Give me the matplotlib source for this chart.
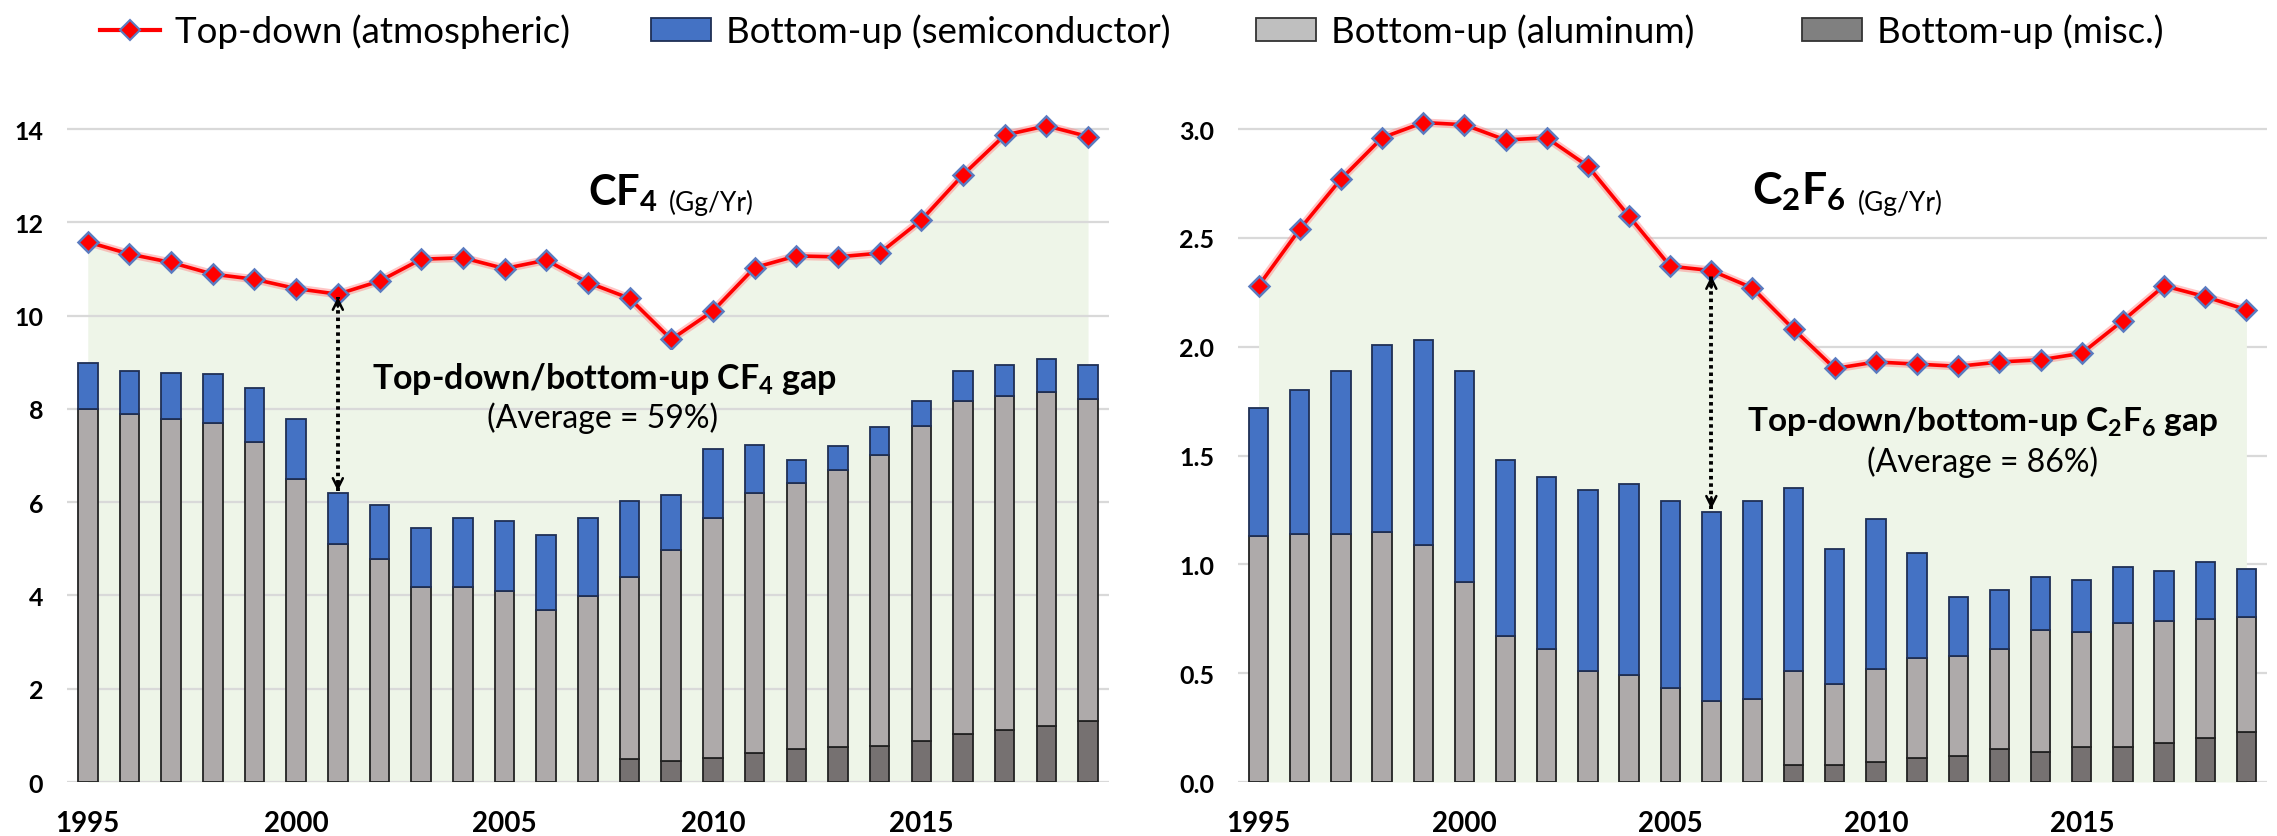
import matplotlib
matplotlib.use("Agg")
import matplotlib.pyplot as plt
from matplotlib.lines import Line2D
from matplotlib.patches import Patch
import numpy as np

plt.rcParams["font.family"] = ["Lato", "DejaVu Sans"]
plt.rcParams["mathtext.fontset"] = "custom"
plt.rcParams["mathtext.rm"] = "Lato"
plt.rcParams["mathtext.bf"] = "Lato:bold"
plt.rcParams["mathtext.it"] = "Lato:italic"

years = list(range(1995, 2020))

# CF4 (Gg/yr)
cf4_topdown = [11.58, 11.32, 11.14, 10.89, 10.78, 10.58, 10.46, 10.74, 11.21, 11.24,
               11.01, 11.19, 10.71, 10.37, 9.49, 10.10, 11.03, 11.28, 11.26, 11.34,
               12.05, 13.02, 13.87, 14.07, 13.84]
cf4_misc = [0, 0, 0, 0, 0, 0, 0, 0, 0, 0, 0, 0, 0,
            0.49, 0.45, 0.52, 0.63, 0.70, 0.75, 0.77, 0.89, 1.04, 1.11, 1.20, 1.30]
cf4_alu = [7.99, 7.90, 7.79, 7.69, 7.29, 6.49, 5.11, 4.79, 4.18, 4.18, 4.09, 3.69, 3.99,
           3.90, 4.52, 5.15, 5.56, 5.72, 5.94, 6.24, 6.75, 7.14, 7.17, 7.16, 6.92]
cf4_semi = [1.00, 0.91, 0.98, 1.05, 1.16, 1.30, 1.09, 1.15, 1.27, 1.49, 1.50, 1.60, 1.68,
            1.63, 1.19, 1.46, 1.03, 0.49, 0.52, 0.60, 0.52, 0.63, 0.67, 0.71, 0.73]

# C2F6 (Gg/yr)
c2f6_topdown = [2.28, 2.54, 2.77, 2.96, 3.03, 3.02, 2.95, 2.96, 2.83, 2.60,
                2.37, 2.35, 2.27, 2.08, 1.90, 1.93, 1.92, 1.91, 1.93, 1.94,
                1.97, 2.12, 2.28, 2.23, 2.17]
c2f6_misc = [0, 0, 0, 0, 0, 0, 0, 0, 0, 0, 0, 0, 0,
             0.08, 0.08, 0.09, 0.11, 0.12, 0.15, 0.14, 0.16, 0.16, 0.18, 0.20, 0.23]
c2f6_alu = [1.13, 1.14, 1.14, 1.15, 1.09, 0.92, 0.67, 0.61, 0.51, 0.49, 0.43, 0.37, 0.38,
            0.43, 0.37, 0.43, 0.46, 0.46, 0.46, 0.56, 0.53, 0.57, 0.56, 0.55, 0.53]
c2f6_semi = [0.59, 0.66, 0.75, 0.86, 0.94, 0.97, 0.81, 0.79, 0.83, 0.88, 0.86, 0.87, 0.91,
             0.84, 0.62, 0.69, 0.48, 0.27, 0.27, 0.24, 0.24, 0.26, 0.23, 0.26, 0.22]

BLUE = "#4472C4"
LGRAY = "#AEAAAA"
DGRAY = "#767171"
FILL = "#EEF5E8"
GRID = "#D9D9D9"
RED = "#FF0000"

fig = plt.figure(figsize=(22.77, 8.37), dpi=100)
ax1 = fig.add_axes([0.0294, 0.0645, 0.4576, 0.8358])
ax2 = fig.add_axes([0.5437, 0.0645, 0.4519, 0.8358])


def draw_panel(ax, top, misc, alu, semi, ymax, fill_z):
    x = np.array(years)
    misc = np.array(misc)
    alu = np.array(alu)
    semi = np.array(semi)
    ax.fill_between(x, 0, top, color=FILL, lw=0, zorder=fill_z)
    w = 0.47
    ec_misc = ["#222222" if m > 0 else "none" for m in misc]
    ax.bar(x, misc, w, color=DGRAY, edgecolor=ec_misc, lw=1.3, zorder=2)
    ax.bar(x, alu, w, bottom=misc, color=LGRAY, edgecolor="#222222", lw=1.3, zorder=2)
    ax.bar(x, semi, w, bottom=misc + alu, color=BLUE, edgecolor="#1F2F55", lw=1.3, zorder=2)
    ax.plot(x, top, color="#FF8080", lw=6, alpha=0.45, zorder=3, solid_capstyle="round")
    ax.plot(x, top, color=RED, lw=2.6, marker="D", markersize=10,
            markerfacecolor=RED, markeredgecolor="#5B7BC0", markeredgewidth=1.8, zorder=4)
    ax.set_xlim(1994.5, 2019.5)
    ax.set_ylim(0, ymax)
    ax.set_xticks([1995, 2000, 2005, 2010, 2015])
    ax.grid(axis="y", color=GRID, lw=1.6)
    ax.set_axisbelow(True)
    for s in ax.spines.values():
        s.set_visible(False)
    ax.tick_params(axis="y", length=0, pad=17, labelsize=18)
    ax.tick_params(axis="x", length=0, pad=20, labelsize=20)
    for lab in ax.get_xticklabels() + ax.get_yticklabels():
        lab.set_fontweight("bold")


def gap_arrow(ax, xv, y0, y1):
    ax.plot([xv, xv], [y0, y1], color="black", lw=2.8, ls=(0, (0.9, 1.0)), zorder=5)
    span = y1 - y0
    ax.annotate("", xy=(xv, y1), xytext=(xv, y1 - span * 0.05),
                arrowprops=dict(arrowstyle="->", lw=1.8, color="black",
                                shrinkA=0, shrinkB=0, mutation_scale=18), zorder=5)
    ax.annotate("", xy=(xv, y0), xytext=(xv, y0 + span * 0.05),
                arrowprops=dict(arrowstyle="->", lw=1.8, color="black",
                                shrinkA=0, shrinkB=0, mutation_scale=18), zorder=5)


# left panel: grid drawn over the green area
draw_panel(ax1, cf4_topdown, cf4_misc, cf4_alu, cf4_semi, 15, 0.2)
ax1.set_yticks(range(0, 15, 2))
gap_arrow(ax1, 2001, 6.24, 10.40)
ax1.text(2007.0, 12.39, r"CF$_\mathbf{4}$", fontsize=30, fontweight="bold", va="baseline")
ax1.text(2008.95, 12.26, "(Gg/Yr)", fontsize=19, va="baseline")
ax1.text(2007.39, 8.45, r"Top-down/bottom-up CF$_\mathbf{4}$ gap", fontsize=24.5,
         fontweight="bold", ha="center", va="baseline", zorder=6,
         bbox=dict(boxstyle="square,pad=0.3", fc=FILL, ec="none"))
ax1.text(2007.36, 7.61, "(Average = 59%)", fontsize=23, ha="center", va="baseline", zorder=6)

# right panel: green area covers the grid
draw_panel(ax2, c2f6_topdown, c2f6_misc, c2f6_alu, c2f6_semi, 15 * 3.0 / 14, 1)
ax2.set_yticks(np.arange(0, 3.01, 0.5))
ax2.yaxis.set_major_formatter(matplotlib.ticker.FormatStrFormatter("%.1f"))
gap_arrow(ax2, 2006, 1.255, 2.325)
ax2.text(2007.0, 2.66, r"C$_\mathbf{2}$F$_\mathbf{6}$", fontsize=32, fontweight="bold", va="baseline")
ax2.text(2009.55, 2.63, "(Gg/Yr)", fontsize=19, va="baseline")
ax2.text(2012.6, 1.615, r"Top-down/bottom-up C$_\mathbf{2}$F$_\mathbf{6}$ gap", fontsize=24,
         fontweight="bold", ha="center", va="baseline", zorder=6)
ax2.text(2012.6, 1.431, "(Average = 86%)", fontsize=23, ha="center", va="baseline", zorder=6)

# legend, one entry per block to match the uneven spacing
entries = [
    (Line2D([], [], color=RED, lw=3, marker="D", markersize=10, markerfacecolor=RED,
            markeredgecolor="#5B7BC0", markeredgewidth=1.5), "Top-down (atmospheric)", 0.0439),
    (Patch(facecolor=BLUE, edgecolor="#1F2F55", lw=1.3), "Bottom-up (semiconductor)", 0.2859),
    (Patch(facecolor="#BFBFBF", edgecolor="#333333", lw=1.3), "Bottom-up (aluminum)", 0.5516),
    (Patch(facecolor="#808080", edgecolor="#333333", lw=1.3), "Bottom-up (misc.)", 0.7914),
]
for handle, label, xpos in entries:
    fig.legend([handle], [label], loc="center left", bbox_to_anchor=(xpos, 0.962),
               frameon=False, fontsize=26.5, handlelength=1.63, handleheight=0.59,
               handletextpad=0.4, borderpad=0, borderaxespad=0)

fig.savefig("out.png", dpi=100)
